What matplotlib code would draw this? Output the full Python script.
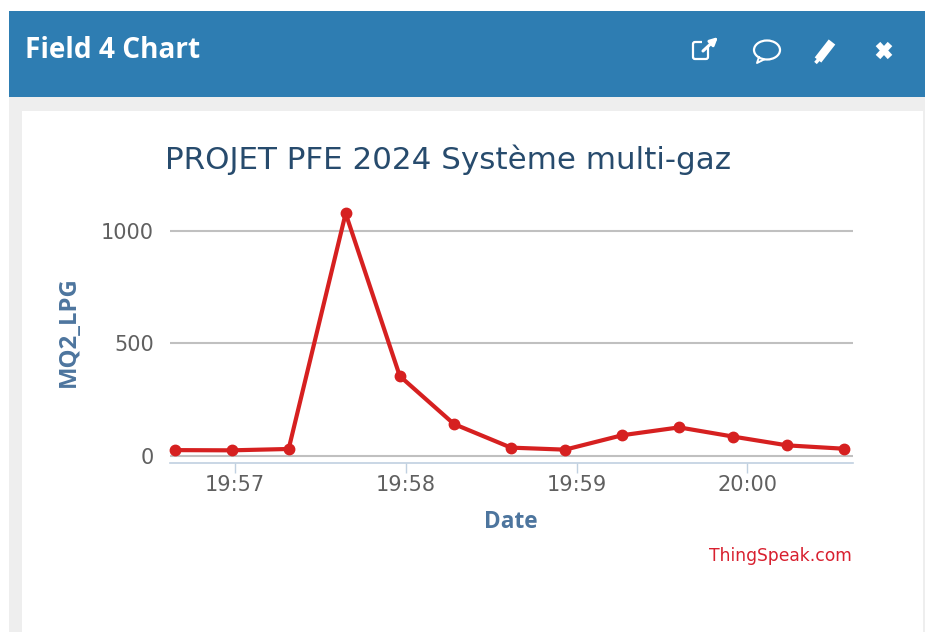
from datetime import datetime

import matplotlib

matplotlib.use("Agg")
import matplotlib.dates as mdates
import matplotlib.patches as mpatches
import matplotlib.pyplot as plt

W, H = 925, 632

TIMES = [
    "19:56:39", "19:56:59", "19:57:19", "19:57:39", "19:57:58", "19:58:17", "19:58:37",
    "19:58:56", "19:59:16", "19:59:36", "19:59:55", "20:00:14", "20:00:34",
]
VALUES = [24, 23, 29, 1076, 353, 140, 35, 26, 90, 125, 84, 45, 30]
X_TICKS = ["19:57:00", "19:58:00", "19:59:00", "20:00:00"]
Y_TICKS = [0, 500, 1000]

TITLE = "PROJET PFE 2024 Système multi-gaz"
HEADER = "Field 4 Chart"

BLUE = "#2e7db2"
RED = "#d62020"
LABEL = "#4d759e"
TICK = "#606060"
AXIS = "#c0d0e0"

plt.rcParams["font.family"] = ["DejaVu Sans"]


def to_time(s):
    return datetime.strptime("2024-01-01 " + s, "%Y-%m-%d %H:%M:%S")


def page(fig):
    # page chrome, in pixels from the top left
    bg = fig.add_axes([0, 0, 1, 1], zorder=0)
    bg.set_xlim(0, W)
    bg.set_ylim(H, 0)
    bg.axis("off")
    bg.add_patch(mpatches.Rectangle((9, 97), W - 9, H - 97, color="#eeeeee", lw=0))
    bg.add_patch(mpatches.Rectangle((22, 111), 901, H - 111, color="white", lw=0))
    bg.add_patch(mpatches.Rectangle((9, 11), W - 9, 86, color=BLUE, lw=0))
    bg.text(25, 51, HEADER, color="white", fontsize=20.2, fontweight="bold", va="center",
            family="Open Sans")

    # external link icon
    bg.add_patch(mpatches.FancyBboxPatch((693, 42), 15, 17, boxstyle="round,pad=0,rounding_size=2",
                                         fc="none", ec="white", lw=1.6))
    bg.add_patch(mpatches.Rectangle((702, 37), 10, 9, color=BLUE, lw=0))
    bg.annotate("", xy=(718, 37), xytext=(703, 51),
                arrowprops=dict(arrowstyle="-|>", color="white", lw=2.2, mutation_scale=11,
                                shrinkA=0, shrinkB=0))
    # comment icon
    bg.add_patch(mpatches.Ellipse((767, 50), 26, 19, fc="none", ec="white", lw=1.6))
    bg.plot([759, 757, 764], [57, 63, 59.5], color="white", lw=1.4)
    # pencil and close
    bg.plot([818, 832], [60, 42], color="white", lw=6, solid_capstyle="butt")
    bg.plot([819, 815.5], [59, 63], color="white", lw=2.5, solid_capstyle="butt")
    bg.plot([878, 890], [44, 57], color="white", lw=4.5, solid_capstyle="butt")
    bg.plot([890, 878], [44, 57], color="white", lw=4.5, solid_capstyle="butt")

    bg.text(165, 160, TITLE, color="#274b6d", fontsize=22.3, va="center", ha="left")
    bg.text(852, 556, "ThingSpeak.com", color="#d8202f", fontsize=12.3, va="center", ha="right")
    bg.text(511, 522, "Date", color=LABEL, fontsize=16.3, fontweight="bold", va="center", ha="center",
            family="Open Sans")
    bg.text(69, 332, "MQ2_LPG", color=LABEL, fontsize=17.2, fontweight="bold",
            rotation=90, va="center", ha="center", family="Open Sans")


def main():
    fig = plt.figure(figsize=(W / 100, H / 100), dpi=100, facecolor="white")
    page(fig)

    # plot area runs from x 170 to 853 and y 190 to 463 in pixels
    ax = fig.add_axes([170 / W, 1 - 463 / H, 683 / W, 273 / H], zorder=1)
    ax.patch.set_alpha(0)

    t0 = mdates.date2num(to_time("19:57:00"))
    day_per_px = 1 / (171 * 1440)  # 171 px per minute
    ax.set_xlim(t0 - 64.5 * day_per_px, t0 + 618.5 * day_per_px)
    ax.set_ylim(-33.3, 1180)

    ax.plot([to_time(t) for t in TIMES], VALUES, color=RED, lw=3, marker="o", ms=7.5,
            clip_on=False, zorder=3)

    ax.set_yticks(Y_TICKS)
    ax.set_xticks([to_time(t) for t in X_TICKS])
    ax.xaxis.set_major_formatter(mdates.DateFormatter("%H:%M"))
    ax.grid(axis="y", color="#c0c0c0", lw=1.5)
    ax.set_axisbelow(True)
    for side in ["top", "right", "left"]:
        ax.spines[side].set_visible(False)
    ax.spines["bottom"].set_color(AXIS)
    ax.spines["bottom"].set_linewidth(1.2)
    ax.tick_params(axis="y", length=0, pad=11.5, labelsize=15, labelcolor=TICK)
    ax.tick_params(axis="x", length=7, width=1, color=AXIS, pad=1.5, labelsize=15, labelcolor=TICK)

    fig.savefig("out.png", dpi=100)


if __name__ == "__main__":
    main()
